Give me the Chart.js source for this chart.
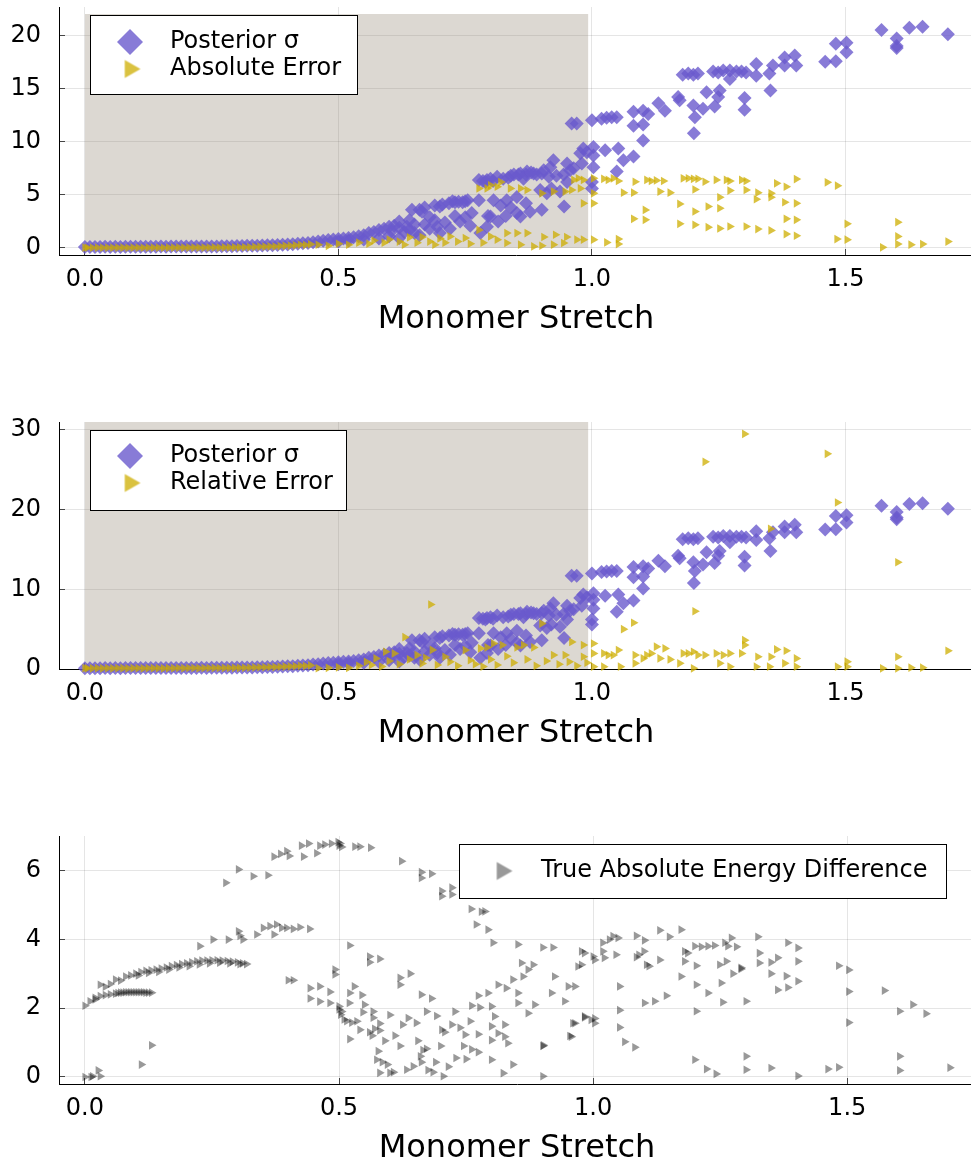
<!DOCTYPE html>
<html>
<head>
<meta charset="utf-8">
<script src="https://cdn.jsdelivr.net/npm/chart.js@4.4.1/dist/chart.umd.min.js"></script>
<style>
html,body{margin:0;padding:0;background:#fff;overflow:hidden;}
body{width:971px;height:1164px;position:relative;}
.panel{position:absolute;left:0;width:980px;}
</style>
</head>
<body>
<div class="panel" style="top:0px;height:345px"><canvas id="c1" width="980" height="345"></canvas></div>
<div class="panel" style="top:415px;height:344px"><canvas id="c2" width="980" height="344"></canvas></div>
<div class="panel" style="top:830px;height:344px"><canvas id="c3" width="980" height="344"></canvas></div>
<script>
// ---------------- data ----------------
const xTicks = [0, 0.5, 1.0, 1.5];
const xTickLabels = ['0.0', '0.5', '1.0', '1.5'];
const yTicks1 = [0, 5, 10, 15, 20];
const yTicks2 = [0, 10, 20, 30];
const yTicks3 = [0, 2, 4, 6];
const xTitle = 'Monomer Stretch';
const legend1 = ['Posterior σ', 'Absolute Error'];
const legend2 = ['Posterior σ', 'Relative Error'];
const legend3 = ['True Absolute Energy Difference'];
const shade1 = [[0, 22.0], [0.993, 22.0]];
const shade2 = [[0, 31.0], [0.993, 31.0]];

const sigma = [
[0.000,0.10],[0.010,0.10],[0.020,0.10],[0.030,0.10],[0.040,0.11],[0.050,0.10],[0.060,0.11],[0.070,0.10],[0.080,0.11],[0.090,0.11],
[0.100,0.12],[0.110,0.12],[0.120,0.11],[0.130,0.12],[0.140,0.12],[0.150,0.13],[0.160,0.12],[0.170,0.13],[0.180,0.13],[0.190,0.13],
[0.200,0.14],[0.210,0.14],[0.220,0.14],[0.230,0.15],[0.240,0.14],[0.250,0.15],[0.260,0.15],[0.270,0.16],[0.280,0.16],[0.290,0.17],
[0.300,0.18],[0.310,0.18],[0.320,0.20],[0.330,0.20],[0.340,0.22],[0.350,0.23],[0.360,0.25],[0.370,0.26],[0.380,0.28],[0.390,0.30],
[0.400,0.33],[0.410,0.36],[0.420,0.40],[0.430,0.44],[0.440,0.48],[0.450,0.55],
[0.460,0.60],[0.470,0.68],[0.480,0.75],[0.490,0.80],[0.500,0.85],[0.500,0.60],[0.510,0.90],[0.520,0.95],[0.520,0.70],[0.530,1.00],
[0.540,1.10],[0.550,1.20],[0.550,0.80],[0.560,1.40],[0.570,1.50],[0.580,1.70],[0.580,0.90],[0.590,1.80],[0.600,2.00],[0.600,1.10],
[0.610,2.10],[0.620,0.95],[0.620,1.90],[0.630,1.50],[0.640,1.70],[0.645,3.60],[0.650,1.40],[0.650,2.20],[0.660,3.60],[0.665,3.40],[0.670,2.20],
[0.680,2.90],[0.690,2.60],[0.700,3.90],[0.700,1.40],[0.710,2.40],[0.718,4.20],[0.720,1.80],[0.730,4.30],[0.737,4.35],[0.750,4.40],
[0.750,2.90],[0.763,3.30],[0.760,2.10],[0.777,6.40],[0.777,4.50],[0.780,1.40],[0.785,6.30],[0.793,6.40],[0.793,2.00],[0.795,3.00],
[0.800,6.50],[0.800,2.95],[0.806,4.50],[0.813,6.70],[0.820,4.00],[0.832,4.50],[0.835,6.60],[0.846,6.90],[0.852,4.80],[0.852,3.30],
[0.859,7.00],[0.859,2.95],[0.865,6.50],[0.872,7.20],[0.878,3.40],[0.885,7.00],[0.891,6.90],[0.898,5.45],[0.901,7.00],[0.901,3.60],
[0.911,5.15],[0.918,7.60],[0.924,8.26],[0.930,6.80],[0.937,5.30],[0.944,6.90],[0.951,7.95],[0.951,6.20],[0.957,7.30],[0.960,11.7],
[0.964,7.50],[0.970,11.7],[0.977,8.90],[0.980,7.95],[0.983,9.35],[0.990,9.00],[1.000,12.0],[1.003,9.50],[1.003,8.70],[1.003,7.60],
[1.000,6.20],[1.000,5.60],[1.019,12.16],[1.026,9.20],[1.029,12.25],[1.039,12.3],[1.049,12.3],[1.049,7.20],[1.052,9.35],[1.062,8.26],
[1.082,8.60],[1.082,12.8],[1.082,11.5],[1.101,12.9],[1.101,11.6],[1.101,10.1],[1.111,12.6],[1.131,13.6],[1.144,12.9],[1.170,14.2],
[1.173,13.9],[1.179,16.3],[1.190,16.4],[1.200,16.3],[1.209,16.4],[1.200,13.4],[1.203,12.3],[1.201,10.8],[1.219,13.1],[1.226,14.65],
[1.239,16.6],[1.242,13.3],[1.249,16.5],[1.249,14.2],[1.252,14.8],[1.259,16.7],[1.272,16.7],[1.272,15.9],[1.285,16.6],[1.295,16.6],
[1.301,14.1],[1.301,13.0],[1.304,16.5],[1.324,17.3],[1.324,16.2],[1.350,16.4],[1.352,14.8],[1.357,17.15],[1.380,17.9],[1.380,17.15],
[1.400,18.1],[1.403,17.15],[1.460,17.5],[1.481,19.2],[1.481,17.55],[1.502,19.3],[1.502,18.4],[1.571,20.5],[1.601,19.7],[1.601,19.0],
[1.601,18.8],[1.626,20.7],[1.652,20.8],[1.702,20.1],
[0.670,3.80],[0.690,4.00],[0.705,4.10],[0.725,4.40],[0.745,4.30],[0.755,4.50],[0.790,6.20],[0.805,6.30],[0.825,6.50],[0.840,6.80],
[0.855,6.90],[0.870,6.90],[0.880,7.10],[0.905,7.30],[0.915,6.70],[0.620,2.50],[0.605,1.60],[0.635,2.00],[0.640,2.60],[0.660,1.20],
[0.680,1.80],[0.695,2.00],[0.730,3.00],[0.740,2.50],[0.815,2.50],[0.830,3.00],[0.840,3.80],[0.870,4.20],[0.920,5.60],[0.945,3.90]
];

const absErr = [
[0.000,0.03],[0.005,0.02],[0.015,0.02],[0.025,0.03],[0.035,0.02],[0.045,0.03],[0.055,0.02],[0.065,0.03],[0.075,0.03],[0.085,0.02],
[0.095,0.03],[0.105,0.03],[0.115,0.02],[0.125,0.03],[0.135,0.03],[0.145,0.03],[0.155,0.02],[0.165,0.03],[0.175,0.03],[0.185,0.04],
[0.195,0.03],[0.205,0.04],[0.215,0.04],[0.225,0.03],[0.235,0.04],[0.245,0.04],[0.255,0.05],[0.265,0.04],[0.275,0.05],[0.285,0.05],
[0.295,0.06],[0.305,0.06],[0.315,0.07],[0.325,0.08],[0.335,0.10],[0.345,0.12],[0.355,0.12],[0.365,0.15],[0.375,0.14],[0.385,0.18],
[0.395,0.20],[0.405,0.22],[0.415,0.25],[0.425,0.30],[0.435,0.28],[0.445,0.35],
[0.460,0.30],[0.480,0.20],[0.500,0.40],[0.520,0.30],[0.540,0.50],[0.560,0.40],[0.570,0.70],[0.590,0.50],[0.600,0.80],[0.620,0.60],
[0.630,0.30],[0.640,1.00],[0.655,0.50],[0.665,1.03],[0.680,0.60],[0.690,0.30],[0.700,0.90],[0.710,0.50],[0.720,1.09],[0.735,0.60],
[0.750,0.94],[0.760,0.40],[0.777,1.70],[0.777,5.60],[0.785,0.50],[0.793,5.60],[0.800,1.09],[0.800,5.90],[0.813,5.76],[0.813,0.78],
[0.820,6.20],[0.832,1.40],[0.832,0.47],[0.839,5.60],[0.852,1.40],[0.859,5.60],[0.859,0.31],[0.872,5.45],[0.872,1.40],[0.885,0.15],
[0.901,5.14],[0.901,0.21],[0.905,1.03],[0.924,5.30],[0.924,0.31],[0.928,1.24],[0.944,0.47],[0.947,5.30],[0.950,1.03],[0.960,5.45],
[0.964,6.40],[0.970,0.78],[0.973,6.55],[0.977,5.60],[0.983,6.40],[0.983,4.20],[0.983,0.78],[1.003,5.14],[1.003,4.20],[1.003,0.78],
[1.003,6.55],[1.023,6.50],[1.029,0.52],[1.032,6.40],[1.042,6.55],[1.052,6.30],[1.052,0.84],[1.052,0.37],[1.062,5.20],[1.082,5.20],
[1.082,2.74],[1.085,6.23],[1.105,3.58],[1.105,2.65],[1.108,6.40],[1.117,6.30],[1.127,6.35],[1.134,5.30],[1.141,6.30],[1.154,5.20],
[1.173,4.14],[1.173,2.27],[1.180,6.55],[1.190,6.55],[1.200,6.50],[1.203,5.50],[1.203,3.43],[1.203,2.18],[1.209,6.50],[1.223,6.23],
[1.229,3.90],[1.229,1.96],[1.245,6.40],[1.252,3.74],[1.252,4.77],[1.252,1.83],[1.265,6.40],[1.272,6.30],[1.272,5.40],[1.272,2.02],
[1.295,6.40],[1.304,6.30],[1.304,5.45],[1.304,2.02],[1.324,4.58],[1.327,5.20],[1.327,1.78],[1.353,5.14],[1.353,4.77],[1.353,1.65],
[1.364,6.08],[1.380,4.30],[1.383,5.76],[1.383,2.74],[1.383,1.31],[1.403,6.48],[1.403,4.20],[1.403,2.65],[1.403,1.15],[1.464,6.17],
[1.483,0.84],[1.484,5.86],[1.503,2.27],[1.503,0.78],[1.573,0.06],[1.603,2.43],[1.603,1.09],[1.603,0.37],[1.629,0.31],[1.652,0.37],
[1.702,0.60]
];

const relErr = [
[0.000,0.10],[0.005,0.08],[0.015,0.08],[0.025,0.10],[0.035,0.08],[0.045,0.10],[0.055,0.08],[0.065,0.10],[0.075,0.10],[0.085,0.08],
[0.095,0.10],[0.105,0.10],[0.115,0.08],[0.125,0.10],[0.135,0.10],[0.145,0.10],[0.155,0.08],[0.165,0.10],[0.175,0.10],[0.185,0.12],
[0.195,0.10],[0.205,0.12],[0.215,0.12],[0.225,0.10],[0.235,0.12],[0.245,0.12],[0.255,0.14],[0.265,0.12],[0.275,0.14],[0.285,0.14],
[0.295,0.15],[0.305,0.15],[0.315,0.16],[0.325,0.18],[0.335,0.20],[0.345,0.22],[0.355,0.22],[0.365,0.25],[0.375,0.24],[0.385,0.28],
[0.395,0.30],[0.405,0.32],[0.415,0.35],[0.425,0.40],[0.435,0.38],[0.445,0.45],
[0.460,0.10],[0.480,0.15],[0.500,0.20],[0.520,0.15],[0.540,0.40],[0.555,0.90],[0.565,0.50],[0.574,1.33],[0.585,0.30],[0.593,2.17],
[0.600,1.00],[0.610,1.96],[0.620,0.60],[0.631,4.00],[0.640,1.20],[0.655,1.75],[0.665,0.70],[0.672,1.40],[0.682,8.10],[0.685,2.40],
[0.695,0.50],[0.710,1.54],[0.720,0.90],[0.735,0.40],[0.750,2.37],[0.760,1.10],[0.770,0.60],[0.780,2.58],[0.785,0.30],[0.793,2.71],
[0.800,1.20],[0.806,3.20],[0.813,0.50],[0.823,3.00],[0.832,1.60],[0.845,0.80],[0.852,2.71],[0.865,3.00],[0.872,1.20],[0.885,2.71],
[0.890,0.40],[0.901,5.70],[0.910,1.00],[0.924,1.75],[0.935,0.60],[0.947,1.75],[0.955,0.90],[0.960,3.40],[0.970,0.40],[0.983,3.00],
[0.983,1.54],[0.990,0.80],[1.003,3.20],[1.003,0.29],[1.003,1.96],[1.023,1.96],[1.023,0.29],[1.032,1.75],[1.042,1.75],[1.052,2.37],
[1.056,0.29],[1.062,5.00],[1.082,5.80],[1.085,1.75],[1.085,0.71],[1.101,1.33],[1.108,1.75],[1.117,1.96],[1.127,2.80],[1.134,1.33],
[1.144,2.58],[1.154,1.20],[1.173,0.71],[1.180,1.96],[1.190,1.96],[1.200,2.17],[1.200,0.08],[1.203,7.25],[1.209,1.75],[1.223,1.75],
[1.223,26.0],[1.245,1.96],[1.252,0.71],[1.259,1.75],[1.272,1.96],[1.272,0.29],[1.295,1.96],[1.301,29.5],[1.301,3.62],[1.301,3.00],
[1.324,0.29],[1.327,1.54],[1.350,0.29],[1.352,17.6],[1.353,1.54],[1.364,2.46],[1.380,0.71],[1.383,2.29],[1.403,1.33],[1.403,0.29],
[1.464,27.0],[1.484,20.9],[1.484,0.29],[1.503,0.92],[1.503,0.29],[1.573,0.08],[1.603,13.4],[1.603,1.54],[1.603,0.08],[1.629,0.17],
[1.652,0.17],[1.702,2.29]
];

const trueDiff = [
[0.000,0.00],[0.012,0.00],[0.015,0.02],[0.026,0.19],[0.030,0.02],[0.111,0.36],[0.131,0.92],
[0.020,2.30],[0.030,2.35],[0.040,2.38],[0.050,2.40],[0.060,2.42],[0.065,2.44],[0.070,2.45],[0.075,2.45],[0.080,2.46],[0.085,2.46],
[0.090,2.46],[0.095,2.46],[0.100,2.46],[0.105,2.46],[0.110,2.46],[0.115,2.46],[0.120,2.45],[0.125,2.45],[0.131,2.45],
[0.000,2.07],[0.010,2.20],[0.020,2.25],[0.030,2.68],[0.040,2.62],[0.050,2.70],[0.060,2.83],[0.070,2.80],[0.080,2.92],[0.090,2.95],
[0.100,3.00],[0.105,2.95],[0.110,3.05],[0.120,3.08],[0.125,3.02],[0.130,3.10],[0.140,3.12],[0.145,3.05],[0.150,3.15],[0.160,3.18],
[0.165,3.12],[0.170,3.22],[0.180,3.25],[0.185,3.18],[0.190,3.28],[0.200,3.30],[0.205,3.22],[0.210,3.33],[0.220,3.36],[0.225,3.27],
[0.230,3.38],[0.240,3.38],[0.245,3.30],[0.250,3.39],[0.260,3.39],[0.265,3.32],[0.270,3.38],[0.280,3.37],[0.285,3.30],[0.290,3.35],
[0.300,3.33],[0.305,3.28],[0.310,3.30],[0.318,3.28],
[0.277,5.64],[0.302,6.03],[0.331,5.83],[0.360,5.86],[0.372,6.40],[0.385,6.48],[0.397,6.56],[0.402,6.42],[0.426,6.72],[0.430,6.40],
[0.440,6.78],[0.456,6.50],[0.462,6.72],[0.472,6.75],[0.485,6.78],[0.498,6.82],[0.500,6.72],[0.502,6.78],[0.505,6.68],[0.531,6.69],
[0.541,6.69],[0.562,6.66],[0.623,6.27],[0.662,5.95],[0.662,5.78],[0.682,5.90],[0.702,5.40],[0.702,5.25],[0.722,5.50],[0.722,5.30],
[0.760,4.88],[0.780,4.80],[0.770,4.43],[0.787,4.81],[0.793,4.28],
[0.226,3.80],[0.252,3.99],[0.282,3.99],[0.302,4.23],[0.305,4.10],[0.311,3.99],[0.338,4.14],[0.351,4.33],[0.364,4.38],[0.372,4.14],
[0.377,4.43],[0.387,4.33],[0.397,4.33],[0.410,4.30],[0.423,4.35],[0.442,4.30],
[0.400,2.81],[0.410,2.81],[0.443,2.58],[0.443,2.28],[0.462,2.63],[0.462,2.19],[0.482,2.47],[0.482,2.15],[0.492,3.12],[0.492,2.98],
[0.500,1.96],[0.500,2.05],[0.503,1.81],[0.505,1.90],[0.510,1.67],[0.515,1.62],[0.521,3.82],[0.521,2.44],[0.520,2.15],[0.521,1.10],
[0.525,1.58],[0.530,2.63],[0.535,1.62],[0.541,1.37],[0.545,2.38],[0.547,1.88],[0.550,2.10],[0.560,3.50],[0.560,3.33],[0.560,1.30],
[0.565,1.20],[0.567,1.90],[0.567,1.72],[0.570,1.40],[0.574,0.50],[0.577,0.75],[0.580,3.43],[0.580,1.55],[0.580,1.35],[0.585,0.43],
[0.580,0.12],[0.590,1.05],[0.595,0.36],[0.600,0.12],[0.600,1.80],[0.607,0.14],[0.610,1.20],[0.620,2.88],[0.620,2.68],[0.620,0.90],
[0.625,1.52],[0.633,0.21],[0.636,1.71],[0.640,3.00],[0.646,0.31],[0.652,1.57],[0.655,1.05],[0.660,0.60],[0.662,2.39],[0.662,0.43],
[0.665,0.78],[0.672,1.90],[0.672,0.82],[0.675,0.20],[0.682,2.28],[0.685,0.14],[0.690,0.43],[0.692,1.77],[0.700,0.90],[0.702,1.37],
[0.705,0.02],[0.708,1.30],[0.715,0.30],[0.722,1.52],[0.728,1.90],[0.730,0.55],[0.738,1.43],[0.745,0.90],[0.748,1.23],[0.750,0.52],
[0.758,1.62],[0.761,2.07],[0.761,0.80],[0.774,2.36],[0.774,1.24],[0.774,0.72],[0.777,2.02],
[0.793,2.44],[0.800,2.05],[0.806,1.76],[0.800,1.47],[0.826,1.52],[0.800,1.07],[0.813,1.27],[0.832,0.98],[0.800,0.50],[0.823,0.11],
[0.842,0.36],[0.901,0.02],[0.901,0.90],[0.902,0.92],[0.872,1.85],[0.885,2.10],[0.852,2.44],[0.842,2.83],[0.862,2.92],[0.872,3.12],
[0.859,3.31],[0.882,3.26],[0.924,2.92],[0.918,2.44],[0.944,2.20],[0.951,2.63],[0.964,2.63],[0.970,3.21],[0.977,3.26],[0.960,1.56],
[0.957,1.17],[0.983,1.76],[0.996,1.66],[0.813,2.68],[0.829,2.58],[0.852,2.15],[0.826,1.17],
[0.803,3.90],[0.852,3.85],[0.901,3.76],[0.921,3.76],[0.977,3.65],[0.983,3.60],[1.000,3.50],[1.003,3.40],
[1.019,3.90],[1.032,3.99],[1.039,4.09],[1.049,4.04],[1.085,4.10],[1.101,3.97],[1.131,4.26],[1.150,4.07],[1.173,4.28],
[1.019,3.65],[1.022,3.46],[1.045,3.55],[1.085,3.48],[1.090,3.55],[1.100,3.65],[1.105,3.26],[1.110,3.22],[1.131,3.40],
[1.180,3.65],[1.186,3.60],[1.200,3.80],[1.213,3.78],[1.226,3.80],[1.239,3.82],[1.259,3.90],[1.272,4.04],[1.265,3.80],[1.282,3.78],
[1.324,4.07],[1.383,3.90],[1.403,3.75],
[1.180,3.36],[1.203,3.23],[1.249,3.26],[1.262,3.36],[1.291,3.17],[1.327,3.60],[1.327,3.31],[1.350,3.33],[1.363,3.46],[1.403,3.36],
[1.350,3.00],[1.380,2.93],[1.403,2.78],[1.383,2.60],[1.363,2.53],
[1.173,2.92],[1.203,2.68],[1.226,2.44],[1.252,2.73],[1.255,2.17],[1.275,3.00],[1.291,3.14],[1.301,2.20],[1.203,1.91],
[1.101,2.15],[1.121,2.20],[1.144,2.36],
[1.052,2.63],[1.052,1.94],[1.052,1.44],[1.062,1.02],[1.082,0.86],
[1.003,1.70],[1.003,1.56],[0.983,1.73],[0.964,1.56],[0.954,1.19],
[1.200,0.50],[1.223,0.23],[1.242,0.09],[1.301,0.60],[1.301,0.21],[1.350,0.26],[1.403,0.03],[1.462,0.23],[1.483,0.28],[1.503,1.58],
[1.503,2.48],[1.503,3.11],[1.483,3.23],[1.573,2.51],[1.603,1.91],[1.629,2.10],[1.655,1.84],[1.603,0.60],[1.603,0.19],[1.702,0.27]
];

// ---------------- styling ----------------
const PURPLE = 'rgba(106,90,205,0.8)';
const GOLD = 'rgba(205,173,0,0.75)';
const GREY = 'rgba(0,0,0,0.4)';
const SHADE = 'rgba(139,125,107,0.3)';

Chart.defaults.font.family = "'DejaVu Sans', sans-serif";
Chart.defaults.color = '#000';

function icon(kind, color, r) {
  const c = document.createElement('canvas');
  const s = Math.ceil(2 * r + 4);
  c.width = s; c.height = s;
  const g = c.getContext('2d');
  const m = s / 2;
  g.fillStyle = color;
  g.beginPath();
  if (kind === 'diamond') {
    g.moveTo(m - r, m); g.lineTo(m, m - r); g.lineTo(m + r, m); g.lineTo(m, m + r);
  } else {
    g.moveTo(m + r, m); g.lineTo(m - 0.5 * r, m + 0.866 * r); g.lineTo(m - 0.5 * r, m - 0.866 * r);
  }
  g.closePath(); g.fill();
  return c;
}

const gridOpts = {
  color: 'rgba(0,0,0,0.1)', lineWidth: 1, drawTicks: true, tickLength: -6,
  tickColor: 'rgba(0,0,0,0.7)', tickWidth: 1
};
const borderOpts = { display: true, color: '#000', width: 1 };

function xScale() {
  return {
    type: 'linear', min: -0.051, max: 1.7515,
    afterBuildTicks: s => { s.ticks = xTicks.map(v => ({ value: v })); },
    afterFit: s => { s.height = 90; s.paddingLeft = 0; s.paddingRight = 0; s.paddingTop = 0; s.paddingBottom = 0; },
    grid: gridOpts, border: borderOpts,
    ticks: { font: { size: 24 }, color: '#000', padding: 16, maxRotation: 0, autoSkip: false,
      callback: v => xTickLabels[xTicks.indexOf(v)] },
    title: { display: true, text: xTitle, font: { size: 32 }, color: '#000', padding: { top: 0, bottom: 6 } }
  };
}
function yScale(min, max, ticks) {
  return {
    type: 'linear', min: min, max: max,
    afterBuildTicks: s => { s.ticks = ticks.map(v => ({ value: v })); },
    afterFit: s => { s.width = 59; s.paddingLeft = 0; s.paddingRight = 0; s.paddingTop = 0; s.paddingBottom = 0; },
    grid: gridOpts, border: borderOpts,
    ticks: { font: { size: 24 }, color: '#000', padding: 24, callback: v => String(v) }
  };
}

function framePlugin(frame, itemLeft, itemTop, pad) {
  return {
    id: 'legendFrame',
    afterInit(chart) {
      const lg = chart.legend;
      lg._layers = function () {
        return [{ z: 1, draw() {
          const ctx = chart.ctx;
          ctx.save();
          ctx.fillStyle = '#fff';
          ctx.fillRect(frame[0], frame[1], frame[2] - frame[0], frame[3] - frame[1]);
          ctx.strokeStyle = '#000'; ctx.lineWidth = 1;
          ctx.strokeRect(frame[0] + 0.5, frame[1] + 0.5, frame[2] - frame[0], frame[3] - frame[1]);
          ctx.restore();
          lg.left = itemLeft - pad; lg.top = itemTop - pad;
          lg.right = chart.width; lg.bottom = chart.height;
          lg.draw();
        } }];
      };
    }
  };
}

function legendOpts(items, W, pad) {
  return {
    display: true, position: 'chartArea', align: 'start',
    labels: {
      usePointStyle: true, pointStyleWidth: W, padding: pad, font: { size: 24 }, color: '#000',
      generateLabels: () => items
    }
  };
}

function scatterSet(label, data, kind, color, r, order) {
  return {
    label: label, data: data, order: order, clip: false,
    pointStyle: kind === 'diamond' ? 'rectRot' : 'triangle',
    pointRotation: kind === 'diamond' ? 0 : 90,
    pointRadius: r, pointHoverRadius: r,
    pointBackgroundColor: color, backgroundColor: color,
    pointBorderWidth: 0, borderWidth: 0
  };
}
function shadeSet(data) {
  return {
    type: 'line', label: 'shade', data: data, order: 5,
    fill: 'origin', backgroundColor: SHADE, borderWidth: 0, borderColor: 'rgba(0,0,0,0)',
    pointRadius: 0, pointHoverRadius: 0, showLine: true, tension: 0
  };
}

function makeChart(id, datasets, ymin, ymax, yt, legend, plugin) {
  return new Chart(document.getElementById(id), {
    type: 'scatter',
    data: { datasets: datasets },
    options: {
      responsive: false, animation: false, events: [],
      layout: { padding: { top: 6, left: 0, right: 1, bottom: 0 } },
      scales: { x: xScale(), y: yScale(ymin, ymax, yt) },
      plugins: { legend: legend, tooltip: { enabled: false } }
    },
    plugins: [plugin]
  });
}

const icD = icon('diamond', PURPLE, 13);
const icG = icon('triangle', GOLD, 10.5);
const icK = icon('triangle', GREY, 10.5);

makeChart('c1',
  [shadeSet(shade1), scatterSet(legend1[0], sigma, 'diamond', PURPLE, 7, 2), scatterSet(legend1[1], absErr, 'triangle', GOLD, 5, 1)],
  -0.66, 22.66, yTicks1,
  legendOpts([
    { text: legend1[0], pointStyle: icD, fillStyle: PURPLE, strokeStyle: 'rgba(0,0,0,0)', lineWidth: 0, hidden: false, datasetIndex: 1, fontColor: '#000' },
    { text: legend1[1], pointStyle: icG, fillStyle: GOLD, strokeStyle: 'rgba(0,0,0,0)', lineWidth: 0, hidden: false, datasetIndex: 2, fontColor: '#000' }
  ], 56, 3),
  framePlugin([90, 15, 357, 94], 102, 30, 3));

makeChart('c2',
  [shadeSet(shade2), scatterSet(legend2[0], sigma, 'diamond', PURPLE, 7, 2), scatterSet(legend2[1], relErr, 'triangle', GOLD, 5, 1)],
  0, 31, yTicks2,
  legendOpts([
    { text: legend2[0], pointStyle: icD, fillStyle: PURPLE, strokeStyle: 'rgba(0,0,0,0)', lineWidth: 0, hidden: false, datasetIndex: 1, fontColor: '#000' },
    { text: legend2[1], pointStyle: icG, fillStyle: GOLD, strokeStyle: 'rgba(0,0,0,0)', lineWidth: 0, hidden: false, datasetIndex: 2, fontColor: '#000' }
  ], 56, 3),
  framePlugin([90, 15, 346, 95], 102, 29, 3));

makeChart('c3',
  [scatterSet(legend3[0], trueDiff, 'triangle', GREY, 5, 1)],
  -0.204, 7.0, yTicks3,
  legendOpts([
    { text: legend3[0], pointStyle: icK, fillStyle: GREY, strokeStyle: 'rgba(0,0,0,0)', lineWidth: 0, hidden: false, datasetIndex: 0, fontColor: '#000' }
  ], 54, 3),
  framePlugin([459, 14, 946, 68], 475, 29, 3));
</script>
</body>
</html>
